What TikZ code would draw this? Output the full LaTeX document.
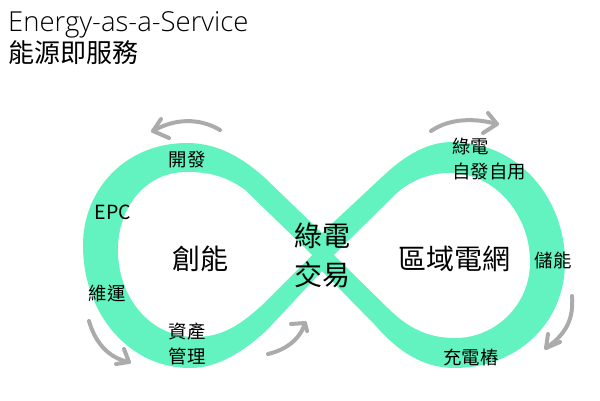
\documentclass[tikz,border=0pt]{standalone}
\usepackage{fontspec}
\setmainfont{Open Sans Light}[BoldFont=Open Sans]
\newfontfamily\cjk{Noto Sans CJK TC}
\definecolor{band}{HTML}{62F3C0}
\definecolor{arrowgray}{HTML}{ABABAB}
\tikzset{
  lab/.style={font=\cjk\fontsize{18.4}{25}\selectfont,text=black,inner sep=0pt,align=center},
  big/.style={font=\cjk\fontsize{28}{39}\selectfont,text=black,inner sep=0pt,align=center},
  turn/.style={draw=arrowgray,line width=4pt,line cap=round,line join=round}
}
\begin{document}
\begin{tikzpicture}[x=1pt,y=-1pt]
\useasboundingbox (0,0) rectangle (600,400);
\fill[white] (0,0) rectangle (600,400);
% band outer outline
\fill[band] (322,233)
  -- (382,177) .. controls (405,155) and (428,142) .. (452,142)
  .. controls (520,142) and (565,200) .. (565,262)
  .. controls (565,325) and (515,368) .. (455,368)
  .. controls (420,368) and (395,348) .. (375,325)
  -- (322,271)
  -- (267,330) .. controls (240,355) and (215,368) .. (190,368)
  .. controls (130,368) and (83,315) .. (83,245)
  .. controls (83,190) and (125,143) .. (187,143)
  .. controls (220,143) and (245,160) .. (265,178)
  -- cycle;
% holes
\fill[white] (312,255)
  -- (245,190) .. controls (226,176) and (208,172) .. (187,172)
  .. controls (145,172) and (118,208) .. (118,250)
  .. controls (118,297) and (150,337) .. (195,337)
  .. controls (222,337) and (240,325) .. (262,305)
  -- cycle;
\fill[white] (334,255)
  -- (397,193) .. controls (412,180) and (430,173) .. (450,173)
  .. controls (495,173) and (530,215) .. (530,262)
  .. controls (530,305) and (495,338) .. (455,338)
  .. controls (425,338) and (405,325) .. (388,308)
  -- cycle;
% arrows
\coordinate (a1s) at (220,130); \coordinate (a1e) at (153,131);
\draw[turn] (a1s) .. controls (200,118) and (175,118) .. (a1e);
\draw[turn] (161,119) -- (a1e) -- (169,138);
\coordinate (a2s) at (431,131); \coordinate (a2e) at (497,124);
\draw[turn] (a2s) .. controls (450,118) and (475,118) .. (a2e);
\draw[turn] (488,113) -- (a2e) -- (483,133);
\coordinate (a3s) at (572,296); \coordinate (a3e) at (546,348);
\draw[turn] (a3s) .. controls (574,320) and (565,335) .. (a3e);
\draw[turn] (560,342) -- (a3e) -- (548,334);
\coordinate (a4s) at (89,321); \coordinate (a4e) at (129,362);
\draw[turn] (a4s) .. controls (95,342) and (108,358) .. (a4e);
\draw[turn] (116,364) -- (a4e) -- (124,349);
\coordinate (a5s) at (268,354); \coordinate (a5e) at (305,323);
\draw[turn] (a5s) .. controls (285,350) and (300,340) .. (a5e);
\draw[turn] (291,324) -- (a5e) -- (307,331);
% title
\node[anchor=west,inner sep=0pt,font=\fontsize{27.5}{30}\selectfont] (t1) at (8,25) {Energy-as-a-Service};
\node[anchor=west,inner sep=0pt,font=\cjk\fontsize{26}{30}\selectfont] (t2) at (8,53) {能源即服務};
% labels
\node[lab] (n1) at (187,160) {開發};
\node[lab,font=\fontfamily{}\cjk\fontsize{19.5}{25}\selectfont] (n2) at (113,212) {EPC};
\node[lab] (n3) at (107,294) {維運};
\node[lab] (n4) at (187,344) {資產\\管理};
\node[big] (n5) at (200,259) {創能};
\node[big] (n6) at (322,255) {綠電\\交易};
\node[big] (n7) at (454,259) {區域電網};
\node[lab,align=left] (n8) at (489,159) {綠電\\自發自用};
\node[lab] (n9) at (553,261) {儲能};
\node[lab] (n10) at (471,357) {充電樁};
\end{tikzpicture}
\end{document}
